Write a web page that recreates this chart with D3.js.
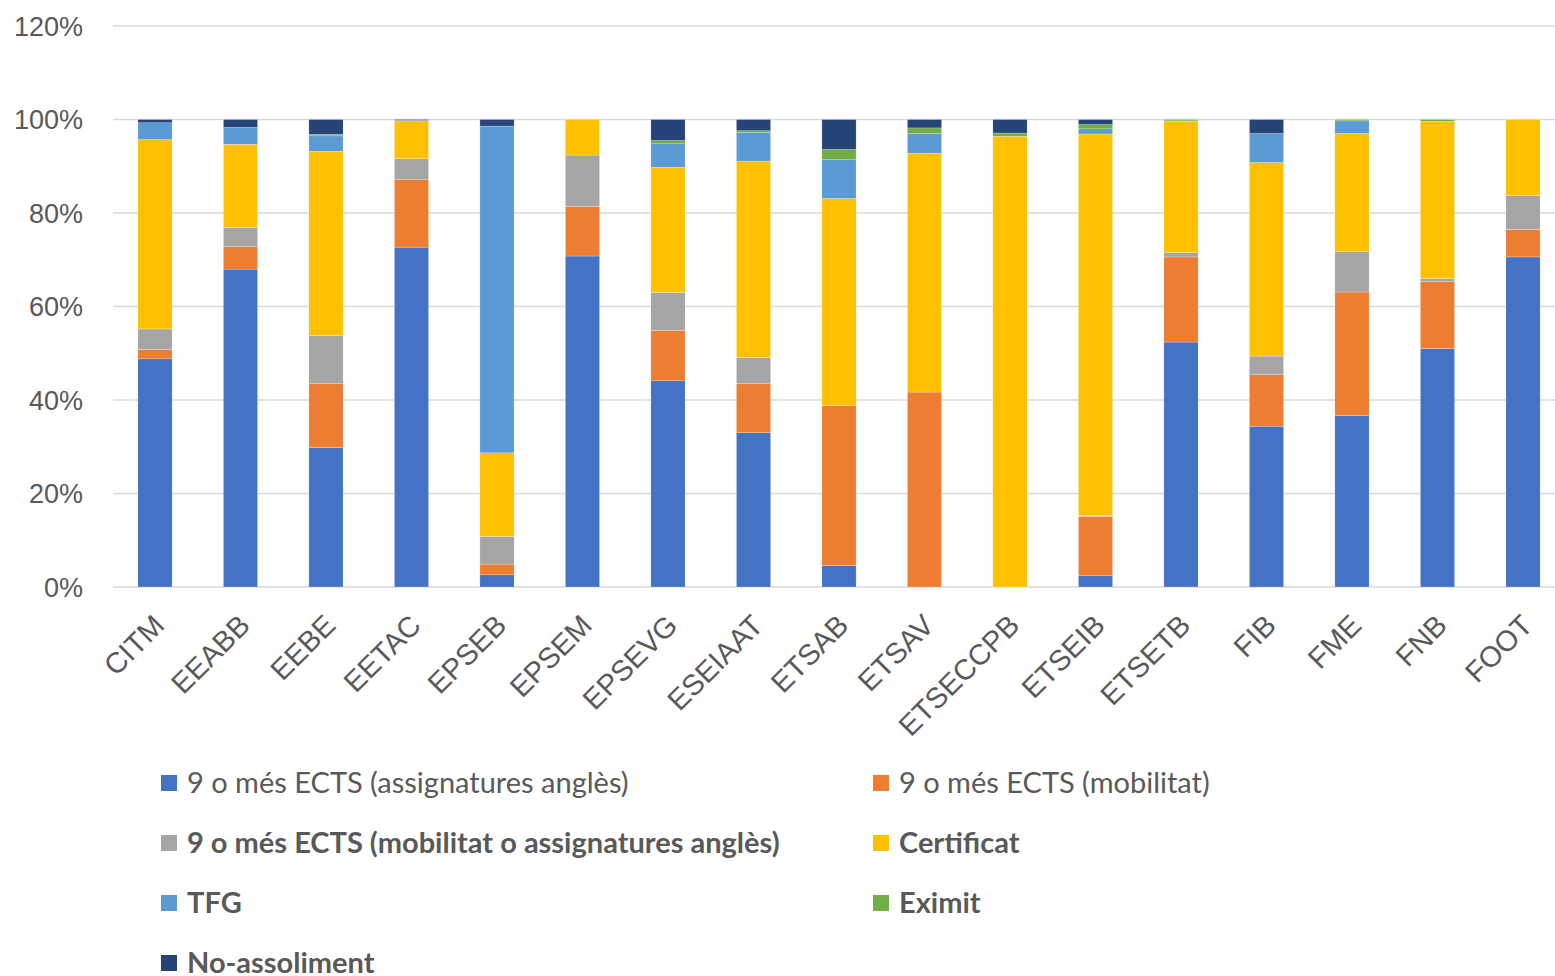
<!DOCTYPE html>
<html>
<head>
<meta charset="utf-8">
<script src="https://cdn.jsdelivr.net/npm/d3@7"></script>
<style>
  body { margin: 0; background: #fff; }
  svg { display: block; font-family: Lato, "Open Sans", sans-serif; }
  .tick-label { fill: #595959; font-size: 27px; }
  .x-label { fill: #595959; font-size: 29px; }
  .legend-text { fill: #595959; font-size: 29px; }
</style>
</head>
<body>
<script>
'use strict';

// schools on the x axis
const categories = ["CITM", "EEABB", "EEBE", "EETAC", "EPSEB", "EPSEM", "EPSEVG", "ESEIAAT",
  "ETSAB", "ETSAV", "ETSECCPB", "ETSEIB", "ETSETB", "FIB", "FME", "FNB", "FOOT"];

// percentages per series
const assignaturesAngles = [48.8, 68.0, 29.8, 72.7, 2.6, 70.8, 44.1, 33.0, 4.6, 0, 0, 2.4, 52.4, 34.4, 36.7, 51.0, 70.6];
const mobilitat = [2.0, 4.8, 13.8, 14.4, 2.3, 10.6, 10.8, 10.6, 34.2, 41.7, 0, 12.7, 18.2, 11.0, 26.4, 14.3, 5.9];
const mobilitatOAngles = [4.4, 4.1, 10.2, 4.5, 5.9, 11.0, 8.1, 5.5, 0, 0, 0, 0.2, 0.9, 4.0, 8.6, 0.7, 7.2];
const certificat = [40.5, 17.8, 39.4, 8.1, 17.9, 7.6, 26.8, 42.0, 44.3, 51.1, 96.4, 81.6, 28.1, 41.4, 25.3, 33.6, 16.3];
const tfg = [3.6, 3.6, 3.3, 0.1, 69.9, 0, 5.0, 6.1, 8.3, 4.2, 0, 1.1, 0.1, 6.2, 2.7, 0, 0];
const eximit = [0, 0, 0.3, 0, 0, 0, 0.7, 0.4, 2.2, 1.2, 0.7, 0.9, 0.3, 0, 0.3, 0.4, 0];
const noAssoliment = [0.7, 1.7, 3.2, 0.2, 1.4, 0, 4.5, 2.4, 6.4, 1.8, 2.9, 1.1, 0, 3.0, 0, 0, 0];

const yTicks = [0, 20, 40, 60, 80, 100, 120];

const series = [
  { key: "a", name: "9 o més ECTS (assignatures anglès)", values: assignaturesAngles, color: "#4472C4", bold: false },
  { key: "b", name: "9 o més ECTS (mobilitat)", values: mobilitat, color: "#ED7D31", bold: false },
  { key: "c", name: "9 o més ECTS (mobilitat o assignatures anglès)", values: mobilitatOAngles, color: "#A5A5A5", bold: true },
  { key: "d", name: "Certificat", values: certificat, color: "#FFC000", bold: true },
  { key: "e", name: "TFG", values: tfg, color: "#5B9BD5", bold: true },
  { key: "f", name: "Eximit", values: eximit, color: "#70AD47", bold: true },
  { key: "g", name: "No-assoliment", values: noAssoliment, color: "#264478", bold: true }
];

const width = 1555, height = 976;

const svg = d3.select("body").append("svg")
  .attr("width", width)
  .attr("height", height);

// build table for the stack
const table = categories.map((c, i) => {
  let row = { cat: c };
  series.forEach(s => { row[s.key] = s.values[i]; });
  return row;
});

const stack = d3.stack().keys(series.map(s => s.key));
const stacked = stack(table);

const x = d3.scaleBand()
  .domain(categories)
  .range([112.25, 1565.75])
  .paddingInner(0.6)
  .paddingOuter(0.3);

const y = d3.scaleLinear()
  .domain([0, 120])
  .range([587, 26]);

// gridlines
svg.append("g")
  .selectAll("line")
  .data(yTicks)
  .enter()
  .append("line")
    .attr("x1", 113)
    .attr("x2", width)
    .attr("y1", d => y(d))
    .attr("y2", d => y(d))
    .attr("stroke", "#d9d9d9")
    .attr("stroke-width", 1.5);

// y axis labels
const yAxis = d3.axisLeft(y)
  .tickValues(yTicks)
  .tickFormat(d => d + "%")
  .tickSize(0)
  .tickPadding(0);

const yg = svg.append("g")
  .attr("transform", "translate(83,0)")
  .call(yAxis);
yg.select(".domain").remove();
yg.selectAll("text")
  .attr("class", "tick-label")
  .attr("font-family", null)
  .attr("font-size", null)
  .attr("dy", "0.35em");

// stacked bars
svg.append("g")
  .selectAll("g")
  .data(stacked)
  .enter()
  .append("g")
    .attr("fill", (d, i) => series[i].color)
  .selectAll("rect")
  .data(d => d)
  .enter()
  .append("rect")
    .attr("x", d => x(d.data.cat))
    .attr("width", x.bandwidth())
    .attr("y", d => y(d[1]))
    .attr("height", d => y(d[0]) - y(d[1]))
    .attr("stroke", "#ffffff")
    .attr("stroke-width", 0.4)
    .attr("stroke-opacity", 0.6);

// x axis labels, rotated
const xAxis = d3.axisBottom(x).tickSize(0).tickPadding(0);
const xg = svg.append("g")
  .call(xAxis);
xg.select(".domain").remove();
xg.selectAll(".tick").attr("transform", d => "translate(" + (x(d) + x.bandwidth() / 2 + 4) + ",620)");
xg.selectAll("text")
  .attr("class", "x-label")
  .attr("font-family", null)
  .attr("font-size", null)
  .attr("fill", null)
  .attr("y", 0)
  .attr("dy", "0.35em")
  .attr("text-anchor", "end")
  .attr("transform", "rotate(-45)");

// legend
const legendPos = [
  { x: 161, y: 783 }, { x: 873, y: 783 },
  { x: 161, y: 843 }, { x: 873, y: 843 },
  { x: 161, y: 903 }, { x: 873, y: 903 },
  { x: 161, y: 963 }
];

const legend = svg.append("g")
  .selectAll("g")
  .data(series)
  .enter()
  .append("g")
    .attr("transform", (d, i) => "translate(" + legendPos[i].x + "," + legendPos[i].y + ")");

legend.append("rect")
  .attr("x", 0)
  .attr("y", -8)
  .attr("width", 16)
  .attr("height", 16)
  .attr("fill", d => d.color);

legend.append("text")
  .attr("class", "legend-text")
  .attr("x", 26)
  .attr("y", 0)
  .attr("dy", "0.35em")
  .attr("font-weight", d => d.bold ? "bold" : "normal")
  .text(d => d.name);
</script>
</body>
</html>
